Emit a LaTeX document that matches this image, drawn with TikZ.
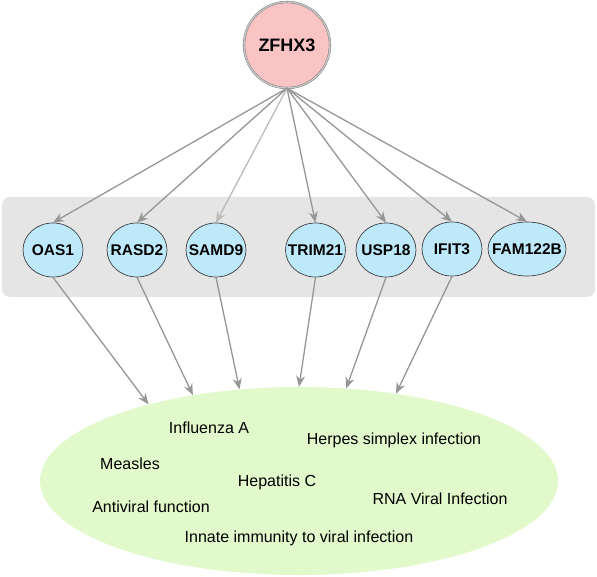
\documentclass[tikz,border=0pt]{standalone}
\usepackage{fontspec}
\setmainfont{Liberation Sans}
\usetikzlibrary{shapes.geometric, arrows.meta}
\definecolor{hubpink}{RGB}{251,196,196}
\definecolor{geneblue}{RGB}{190,233,251}
\definecolor{groupgray}{RGB}{229,229,229}
\definecolor{diseasegreen}{RGB}{226,249,203}
\definecolor{edgegray}{RGB}{150,150,150}
\tikzstyle{hub} = [circle, minimum size=86pt, inner sep=0, fill=hubpink, draw=black!55, double=black!22, double distance=1.4pt, font=\fontsize{18}{20}\selectfont\bfseries]
\tikzstyle{gene} = [ellipse, minimum width=60pt, minimum height=54pt, inner sep=0, inner xsep=-10pt, fill=geneblue, draw=black!75, line width=0.7pt, font=\fontsize{15.5}{17}\selectfont\bfseries]
\tikzstyle{group} = [rectangle, rounded corners=8pt, minimum width=593pt, minimum height=100pt, fill=groupgray]
\tikzstyle{disease} = [ellipse, minimum width=518pt, minimum height=188pt, inner sep=0, fill=diseasegreen]
\tikzstyle{term} = [font=\fontsize{16}{18}\selectfont]
\tikzstyle{arrow} = [line width=1.3pt, draw=edgegray, ->, >={Stealth[length=11pt,width=9pt]}]

\begin{document}
\begin{tikzpicture}[x=1pt, y=-1pt]
        \useasboundingbox (0,0) rectangle (597,577);
        \node (grp) [group] at (298.5,247) {};
        \node (dis) [disease] at (299,481) {};
        \node (zfhx3) [hub] at (287,45) {ZFHX3};

        \node (oas1) [gene] at (53,250) {OAS1};
        \node (rasd2) [gene] at (137,250) {RASD2};
        \node (samd9) [gene] at (216,250) {SAMD9};
        \node (trim21) [gene] at (315.5,250) {TRIM21};
        \node (usp18) [gene] at (386,250) {USP18};
        \node (ifit3) [gene] at (452,249) {IFIT3};
        \node (fam122b) [gene, minimum width=78pt] at (527,249) {FAM122B};

        \node (influenza) [term] at (209,428) {Influenza A};
        \node (herpes) [term] at (394,440) {Herpes simplex infection};
        \node (measles) [term] at (130,464) {Measles};
        \node (hepc) [term] at (277,482) {Hepatitis C};
        \node (antiviral) [term] at (151,507) {Antiviral function};
        \node (rnaviral) [term] at (440,499) {RNA Viral Infection};
        \node (innate) [term] at (299,538) {Innate immunity to viral infection};

        \draw [arrow] (zfhx3.south) -- (oas1.north);
        \draw [arrow] (zfhx3.south) -- (rasd2.north);
        \draw [arrow, draw=edgegray!65] (zfhx3.south) -- (samd9.north);
        \draw [arrow] (zfhx3.south) -- (trim21.north);
        \draw [arrow] (zfhx3.south) -- (usp18.north);
        \draw [arrow] (zfhx3.south) -- (ifit3.north);
        \draw [arrow] (zfhx3.south) -- (fam122b.north);

        \draw [arrow] (oas1.south) -- (dis.153.7);
        \draw [arrow] (rasd2.south) -- (dis.141.5);
        \draw [arrow] (samd9.south) -- (dis.123.1);
        \draw [arrow] (trim21.south) -- (dis.90);
        \draw [arrow] (usp18.south) -- (dis.63.4);
        \draw [arrow] (ifit3.south) -- (dis.42.8);
\end{tikzpicture}
\end{document}
